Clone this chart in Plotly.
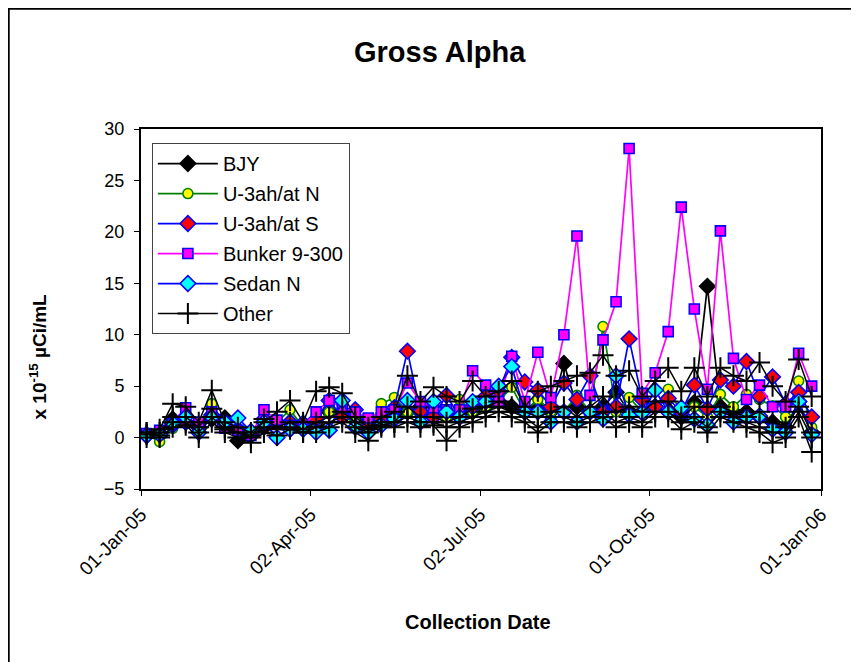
import pandas as pd
import plotly.graph_objects as go

# weekly collection dates
dates = pd.date_range("2005-01-04", periods=52, freq="7D")

bjy = [0.2, 0.2, 1.8, 1.5, 1.0, 1.8, 1.9, -0.3, 0.3, 1.0, 1.5, 1.5, 1.0, 1.2, 2.5, 2.5,
       2.0, 1.5, 1.5, 2.0, 2.5, 3.0, 2.0, 2.5, 2.0, 2.5, 3.0, 3.5, 3.0, 2.5, 3.0, 2.5,
       7.2, 3.0, 2.5, 3.0, 4.4, 2.5, 2.5, 3.0, 2.5, 2.0, 3.4, 14.7, 3.0, 2.5, 2.5, 2.0,
       1.5, 1.0, 3.5, 0.5]
u3ah_n = [0.3, -0.4, 0.9, 1.5, 1.2, 3.3, 1.0, 0.5, 0.3, 1.5, 1.5, 2.7, 1.0, 1.5, 2.5, 2.0,
          1.5, 1.0, 3.3, 3.9, 2.5, 2.0, 2.5, 2.0, 3.7, 2.5, 3.0, 3.5, 4.9, 2.5, 3.7, 2.5,
          2.5, 4.1, 2.5, 10.8, 2.5, 3.9, 2.5, 3.0, 4.7, 2.5, 3.0, 2.0, 4.2, 3.0, 4.2, 3.7,
          3.1, 2.0, 5.5, 1.0]
u3ah_s = [0.3, 0.4, 1.2, 1.5, 1.0, 2.2, 1.2, 0.8, 0.3, 1.8, 1.5, 1.5, 1.4, 1.8, 3.6, 2.0,
          2.7, 1.0, 1.8, 2.9, 8.4, 2.5, 2.0, 4.1, 2.0, 3.0, 4.0, 4.5, 7.8, 5.4, 4.6, 3.0,
          5.3, 3.7, 6.0, 2.5, 3.0, 9.6, 3.7, 3.0, 3.8, 2.5, 5.1, 2.8, 5.6, 5.0, 7.4, 4.0,
          5.9, 3.3, 4.4, 2.0]
bunker = [0.4, 0.7, 1.5, 2.9, 1.5, 2.5, 0.9, 0.7, 0.2, 2.7, 1.7, 1.2, 1.1, 2.5, 3.6, 2.9,
          2.5, 1.9, 2.5, 2.7, 5.3, 3.5, 2.9, 2.7, 2.7, 6.5, 5.1, 3.5, 7.9, 3.5, 8.3, 3.9,
          10.0, 19.6, 4.1, 9.5, 13.2, 28.1, 4.3, 6.3, 10.3, 22.4, 12.5, 4.7, 20.1, 7.7, 3.7, 5.1,
          3.0, 3.0, 8.2, 5.0]
sedan_n = [0.2, 0.3, 1.4, 2.0, 0.5, 2.0, 1.5, 1.9, 0.6, 1.5, 0.0, 0.8, 0.8, 0.5, 0.7, 3.6,
           1.0, 0.5, 1.2, 1.8, 3.6, 1.5, 3.5, 2.5, 2.0, 3.5, 3.5, 5.0, 6.9, 2.5, 2.5, 1.5,
           2.5, 1.5, 2.5, 1.8, 6.0, 2.2, 2.4, 4.6, 2.5, 2.9, 1.8, 1.2, 2.5, 1.5, 2.0, 2.1,
           0.8, 0.5, 3.5, 0.3]
# "Other" stations, all drawn with the same style
other_a = [0.5, 0.8, 3.3, 3.0, 1.5, 4.6, 1.5, 1.0, 0.5, 1.5, 2.5, 3.6, 1.5, 4.5, 4.9, 4.3,
           2.0, 1.0, 2.0, 2.5, 6.0, 3.5, 4.9, 4.0, 3.5, 5.5, 4.0, 4.5, 5.5, 3.0, 4.5, 5.0,
           5.5, 6.0, 6.3, 8.0, 6.0, 6.5, 4.0, 5.5, 6.8, 4.5, 6.8, 4.0, 6.8, 6.0, 5.5, 7.3,
           5.0, 3.5, 7.6, 4.0]
other_b = [0.3, 0.5, 2.0, 2.0, 1.0, 2.8, 1.0, 0.5, 0.0, 1.8, 1.0, 1.5, 0.8, 1.5, 2.0, 2.5,
           1.5, 0.8, 1.5, 1.5, 3.0, 2.0, 2.0, 1.5, 2.0, 2.8, 3.0, 3.5, 3.0, 2.5, 2.0, 2.5,
           3.0, 2.0, 3.0, 4.0, 2.5, 3.0, 2.5, 3.5, 3.5, 2.0, 3.0, 3.0, 3.0, 2.5, 2.0, 2.5,
           1.5, 1.0, 3.0, 0.5]
other_c = [0.0, 0.0, 1.0, 1.2, 0.0, 1.5, 0.5, 0.0, -0.5, 0.5, 0.2, 0.8, 0.5, 0.5, 1.0, 1.5,
           0.5, -0.3, 1.0, 1.0, 1.5, 1.0, 1.2, -0.3, 1.0, 1.5, 2.0, 2.5, 2.0, 1.5, 0.5, 1.5,
           1.5, 1.0, 1.5, 2.0, 1.0, 1.5, 1.0, 2.0, 2.0, 0.8, 1.5, 0.5, 2.0, 1.5, 1.0, 0.5,
           -0.5, 0.0, 2.0, -1.4]
other_d = [0.5, 0.2, 1.5, 1.5, 0.5, 2.0, 0.8, 0.5, 0.2, 1.0, 0.8, 1.0, 0.5, 1.0, 1.5, 2.0,
           1.0, 0.5, 1.2, 1.5, 2.0, 1.5, 1.5, 1.0, 1.5, 2.0, 2.5, 3.0, 2.5, 2.0, 1.0, 2.0,
           2.0, 1.5, 2.0, 2.5, 1.5, 2.0, 1.5, 2.5, 2.5, 1.5, 2.0, 1.0, 2.5, 2.0, 1.5, 1.0,
           0.5, 0.5, 2.5, 0.0]

tick_dates = ["2005-01-01", "2005-04-02", "2005-07-02", "2005-10-01", "2006-01-01"]
tick_labels = ["01-Jan-05", "02-Apr-05", "02-Jul-05", "01-Oct-05", "01-Jan-06"]

FONT = "Liberation Sans, Arial, sans-serif"

fig = go.Figure()

def add(name, y, line_color, symbol, fill, edge, size=10):
    fig.add_trace(go.Scatter(
        x=dates, y=y, name=name, mode="lines+markers", legendgroup=name,
        line=dict(color=line_color, width=1.7),
        marker=dict(symbol=symbol, size=size, color=fill,
                    line=dict(color=edge, width=1.6)),
    ))

add("BJY", bjy, "black", "diamond", "black", "black", size=12)
add("U-3ah/at N", u3ah_n, "green", "circle", "yellow", "green", size=10)
add("U-3ah/at S", u3ah_s, "blue", "diamond", "red", "blue", size=12)
add("Bunker 9-300", bunker, "magenta", "square", "magenta", "blue", size=10)
add("Sedan N", sedan_n, "blue", "diamond", "cyan", "blue", size=12)
for i, ys in enumerate([other_d, other_c, other_b, other_a]):
    fig.add_trace(go.Scatter(
        x=dates, y=ys, name="Other", mode="lines+markers", showlegend=(i == 0),
        legendgroup="Other",
        line=dict(color="black", width=1.5),
        marker=dict(symbol="cross-thin", size=15, color="black",
                    line=dict(color="black", width=2)),
    ))

fig.update_layout(
    width=859, height=662,
    paper_bgcolor="white", plot_bgcolor="white",
    font=dict(family=FONT, size=18, color="black"),
    margin=dict(l=133, r=46, t=121, b=181),
    xaxis=dict(
        range=["2005-01-01", "2006-01-01"], tickvals=tick_dates, ticktext=tick_labels,
        tickangle=-45, ticks="outside", ticklen=5, tickcolor="black",
        showgrid=False, zeroline=False, showline=True, linecolor="black",
        linewidth=2, mirror=True, tickfont=dict(size=19),
    ),
    yaxis=dict(
        range=[-5, 30], dtick=5, ticks="outside", ticklen=5, tickcolor="black",
        showgrid=False, zeroline=False, showline=True, linecolor="black",
        linewidth=2, mirror=True, tickfont=dict(size=18), ticklabelstandoff=6,
    ),
    legend=dict(
        x=0.016, y=0.961, xanchor="left", yanchor="top",
        bgcolor="white", bordercolor="#444", borderwidth=1,
        font=dict(size=20), itemwidth=60, tracegroupgap=1,
    ),
    annotations=[
        dict(text="<b>Gross Alpha</b>", xref="paper", yref="paper",
             x=0.44, y=1.214, showarrow=False, font=dict(size=29),
             xanchor="center", yanchor="middle"),
        dict(text="<b>Collection Date</b>", xref="paper", yref="paper",
             x=0.496, y=-0.369, showarrow=False, font=dict(size=20),
             xanchor="center", yanchor="middle"),
        dict(text="<b>x 10<sup>-15</sup> µCi/mL</b>", xref="paper", yref="paper",
             x=-0.151, y=0.369, showarrow=False, font=dict(size=19),
             textangle=-90, xanchor="center", yanchor="middle"),
    ],
    shapes=[dict(type="rect", xref="paper", yref="paper",
                 x0=-0.1949, x1=1.1, y0=-0.6, y1=1.3347,
                 line=dict(color="black", width=2.5), layer="below")],
)

fig.write_html("out.html")
